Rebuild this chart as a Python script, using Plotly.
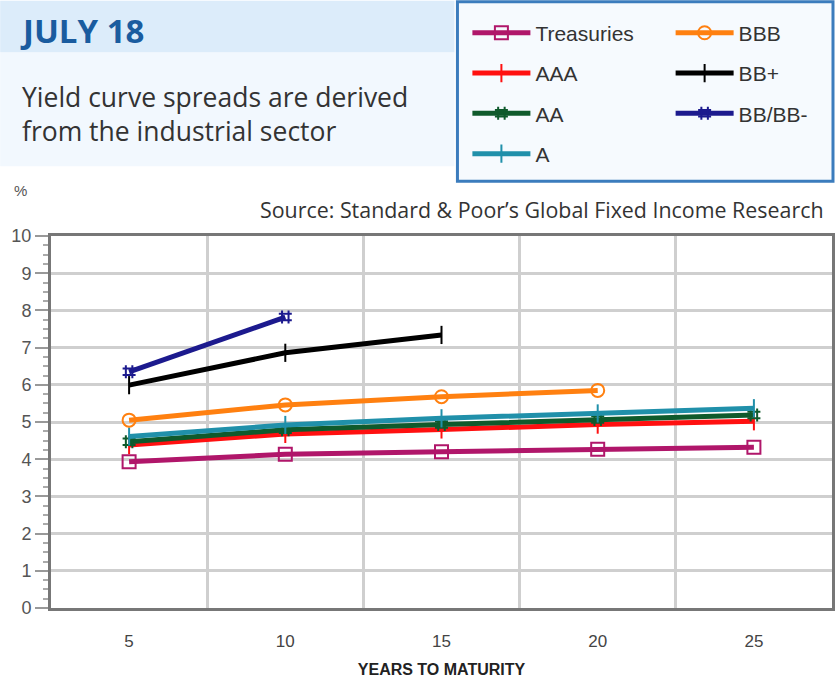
import plotly.graph_objects as go

years = ["5", "10", "15", "20", "25"]
treasuries = [3.93, 4.13, 4.20, 4.27, 4.32]
aaa = [4.38, 4.68, 4.80, 4.93, 5.02]
aa = [4.47, 4.79, 4.93, 5.07, 5.19]
a_rating = [4.61, 4.92, 5.10, 5.23, 5.37]
bbb = [5.05, 5.46, 5.68, 5.85]
bb_plus = [5.99, 6.86, 7.34]
bb_minus = [6.35, 7.82]
y_ticks = [0, 1, 2, 3, 4, 5, 6, 7, 8, 9, 10]

W, H = 840, 682
ML, MR, MT, MB = 51, 5, 236, 73
PW, PH = W - ML - MR, H - MT - MB


def px(x):
    return (x - ML) / PW


def py(y):
    return (H - MB - y) / PH


series = [
    ("Treasuries", treasuries, "#b0166a", "square-open", "legend"),
    ("AAA", aaa, "#ff1010", "line-ns-open", "legend"),
    ("AA", aa, "#0f5a2c", "hash-open", "legend"),
    ("A", a_rating, "#2090aa", "line-ns-open", "legend"),
    ("BBB", bbb, "#ff8010", "circle-open", "legend2"),
    ("BB+", bb_plus, "#000000", "line-ns-open", "legend2"),
    ("BB/BB-", bb_minus, "#1c1a8e", "hash-open", "legend2"),
]

fig = go.Figure()
for i, (name, vals, color, sym, leg) in enumerate(series):
    fig.add_trace(go.Scatter(
        x=years[:len(vals)], y=vals, name=name, mode="lines+markers",
        line=dict(color=color, width=5),
        marker=dict(symbol=sym, size=13, color=color, line=dict(color=color, width=2)),
        legend=leg, legendgroup=name,
    ))

shapes = [
    dict(type="rect", xref="paper", yref="paper", x0=px(0), x1=px(456), y0=py(52), y1=py(0),
         fillcolor="#dcecfa", line=dict(width=0), layer="below"),
    dict(type="rect", xref="paper", yref="paper", x0=px(0), x1=px(456), y0=py(166), y1=py(52),
         fillcolor="#f2f8fe", line=dict(width=0), layer="below"),
    dict(type="rect", xref="paper", yref="paper", x0=px(459), x1=px(836), y0=py(181), y1=py(1),
         fillcolor="#f6fafe", line=dict(color="#3b7cbd", width=3), layer="below"),
]

annotations = [
    dict(text="<b>JULY 18</b>", x=px(18), y=py(30), xref="paper", yref="paper", xanchor="left",
         yanchor="middle", showarrow=False, font=dict(family="Open Sans", size=33, color="#1a5c9f")),
    dict(text="Yield curve spreads are derived<br>from the industrial sector", x=px(20), y=py(114),
         xref="paper", yref="paper", xanchor="left", yanchor="middle", showarrow=False, align="left",
         font=dict(family="Open Sans", size=26.5, color="#333333")),
    dict(text="%", x=px(12), y=py(190), xref="paper", yref="paper", xanchor="left", yanchor="middle",
         showarrow=False, font=dict(family="Liberation Sans", size=15, color="#555555")),
    dict(text="Source: Standard &amp; Poor\u2019s Global Fixed Income Research", x=px(829), y=py(209),
         xref="paper", yref="paper", xanchor="right", yanchor="middle", showarrow=False,
         font=dict(family="Open Sans", size=21.4, color="#333333")),
]

legend_font = dict(family="Liberation Sans", size=21, color="#333333")

fig.update_layout(
    width=W, height=H,
    margin=dict(l=ML, r=MR, t=MT, b=MB),
    paper_bgcolor="white", plot_bgcolor="white",
    shapes=shapes, annotations=annotations,
    showlegend=True,
    legend=dict(x=px(469), y=py(12), xanchor="left", yanchor="top", bgcolor="rgba(0,0,0,0)",
                font=legend_font, itemwidth=58, tracegroupgap=10, traceorder="grouped"),
    legend2=dict(x=px(673), y=py(12), xanchor="left", yanchor="top", bgcolor="rgba(0,0,0,0)",
                 font=legend_font, itemwidth=58, tracegroupgap=10, traceorder="grouped"),
    xaxis=dict(type="category", categoryorder="array", categoryarray=years, range=[-0.5, 4.5],
               tickson="boundaries", ticks="", showgrid=True, gridcolor="#cfcfcf", gridwidth=3,
               showline=True, linecolor="#777777", linewidth=3, mirror=True, ticklabelstandoff=16,
               tickfont=dict(family="Liberation Sans", size=17, color="#444444"),
               title=dict(text="<b>YEARS TO MATURITY</b>", standoff=14,
                          font=dict(family="Liberation Sans", size=16, color="#222222"))),
    yaxis=dict(range=[0, 10], tickvals=y_ticks, ticks="outside", ticklen=13, tickwidth=2, tickcolor="#999999",
               showgrid=True, gridcolor="#cfcfcf", gridwidth=3, zeroline=False,
               showline=True, linecolor="#777777", linewidth=3, mirror=True,
               minor=dict(dtick=0.25, ticks="outside", ticklen=5, tickcolor="#aaaaaa", showgrid=False),
               tickfont=dict(family="Liberation Sans", size=18, color="#555555")),
)

fig.write_html("out.html")
